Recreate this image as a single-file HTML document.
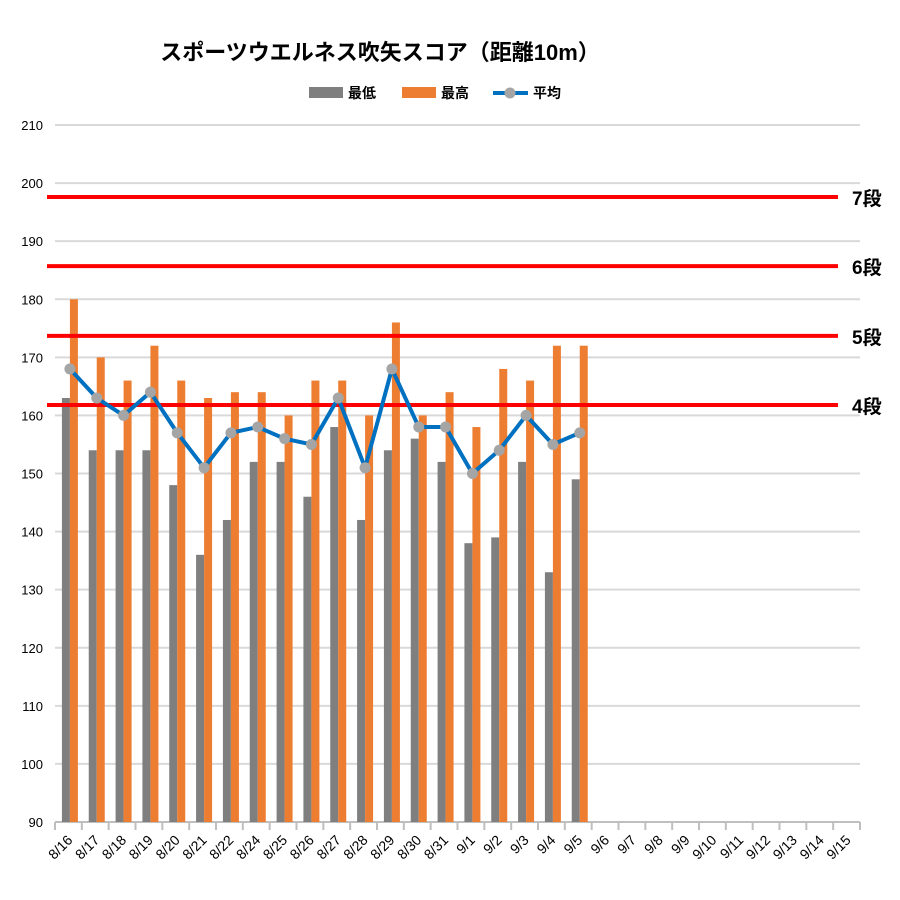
<!DOCTYPE html>
<html><head><meta charset="utf-8"><style>
body{margin:0;background:#fff;}
svg{display:block;font-family:"Liberation Sans","Noto Sans CJK JP",sans-serif;}
</style></head><body>
<svg id="c" width="900" height="900"></svg>
<script>
const categories=["8/16","8/17","8/18","8/19","8/20","8/21","8/22","8/24","8/25","8/26","8/27","8/28","8/29","8/30","8/31","9/1","9/2","9/3","9/4","9/5","9/6","9/7","9/8","9/9","9/10","9/11","9/12","9/13","9/14","9/15"];
const minValues=[163,154,154,154,148,136,142,152,152,146,158,142,154,156,152,138,139,152,133,149];
const maxValues=[180,170,166,172,166,163,164,164,160,166,166,160,176,160,164,158,168,166,172,172];
const avgValues=[168,163,160,164,157,151,157,158,156,155,163,151,168,158,158,150,154,160,155,157];
const yTicks=[90,100,110,120,130,140,150,160,170,180,190,200,210];
const rankValues=[197.6,185.7,173.7,161.8];
const rankLabels=["7段","6段","5段","4段"];

const NS="http://www.w3.org/2000/svg";
const svg=document.getElementById('c');
const X0=55,X1=860,Y0=822,Y1=125;
const band=(X1-X0)/categories.length;
const y=v=>Y0-(v-90)/(210-90)*(Y0-Y1);
const xc=i=>X0+band*(i+0.5);
function mk(tag,attrs,parent){const e=document.createElementNS(NS,tag);for(const k in attrs)e.setAttribute(k,attrs[k]);(parent||svg).appendChild(e);return e;}

yTicks.forEach(t=>{
  const l=mk('line',{x1:X0,x2:X1,y1:y(t),y2:y(t),stroke:t===90?'#bfbfbf':'#d9d9d9','stroke-width':2});
  
  
  const tx=mk('text',{x:43,y:y(t)+5,'text-anchor':'end','font-size':13,fill:'#000'});
  tx.textContent=t;
  
  
});
for(let i=0;i<=categories.length;i++){
  const tk=mk('line',{x1:X0+band*i,x2:X0+band*i,y1:Y0,y2:Y0+8,stroke:'#bfbfbf','stroke-width':2});
  
  
}
categories.forEach((c,i)=>{
  const t=mk('text',{x:xc(i)+5,y:Y0+19,'text-anchor':'end','font-size':14,transform:`rotate(-45 ${xc(i)+5} ${Y0+19})`});
  t.textContent=c;
  
  
});
const bw=8,off=1.5;
minValues.forEach((v,i)=>{
  const r=mk('rect',{x:xc(i)-bw+off,y:y(v),width:bw,height:Y0-y(v),fill:'#7f7f7f'});
  
  
});
maxValues.forEach((v,i)=>{
  const r=mk('rect',{x:xc(i)+off,y:y(v),width:bw,height:Y0-y(v),fill:'#ed7d31'});
  
  
});
rankValues.forEach((v,i)=>{
  const l=mk('line',{x1:47,x2:838,y1:y(v),y2:y(v),stroke:'#ff0000','stroke-width':4});
  
  
  const t=mk('text',{x:852,y:y(v)+8,'font-size':19,'font-weight':'bold'});
  t.textContent=rankLabels[i];
  
  
});
const pts=avgValues.map((v,i)=>(xc(i)+off)+','+y(v)).join(' ');
const pl=mk('polyline',{points:pts,fill:'none',stroke:'#0070c0','stroke-width':4,'stroke-linejoin':'round'});


avgValues.forEach((v,i)=>{
  const c=mk('circle',{cx:xc(i)+off,cy:y(v),r:5.5,fill:'#a5a5a5'});
  
  
});
const ti=mk('text',{x:380,y:60,'text-anchor':'middle','font-size':22,'font-weight':'bold'});
ti.textContent='スポーツウエルネス吹矢スコア（距離10m）';


const lg=mk('g',{});


mk('rect',{x:309,y:87,width:34,height:11,fill:'#7f7f7f'},lg);
let t1=mk('text',{x:348,y:98,'font-size':14,'font-weight':'bold'},lg);t1.textContent='最低';
mk('rect',{x:402,y:87,width:34,height:11,fill:'#ed7d31'},lg);
let t2=mk('text',{x:441,y:98,'font-size':14,'font-weight':'bold'},lg);t2.textContent='最高';
mk('line',{x1:493,x2:528,y1:93,y2:93,stroke:'#0070c0','stroke-width':4},lg);
mk('circle',{cx:510,cy:93,r:5.5,fill:'#a5a5a5'},lg);
let t3=mk('text',{x:533,y:98,'font-size':14,'font-weight':'bold'},lg);t3.textContent='平均';
</script>
</body></html>
